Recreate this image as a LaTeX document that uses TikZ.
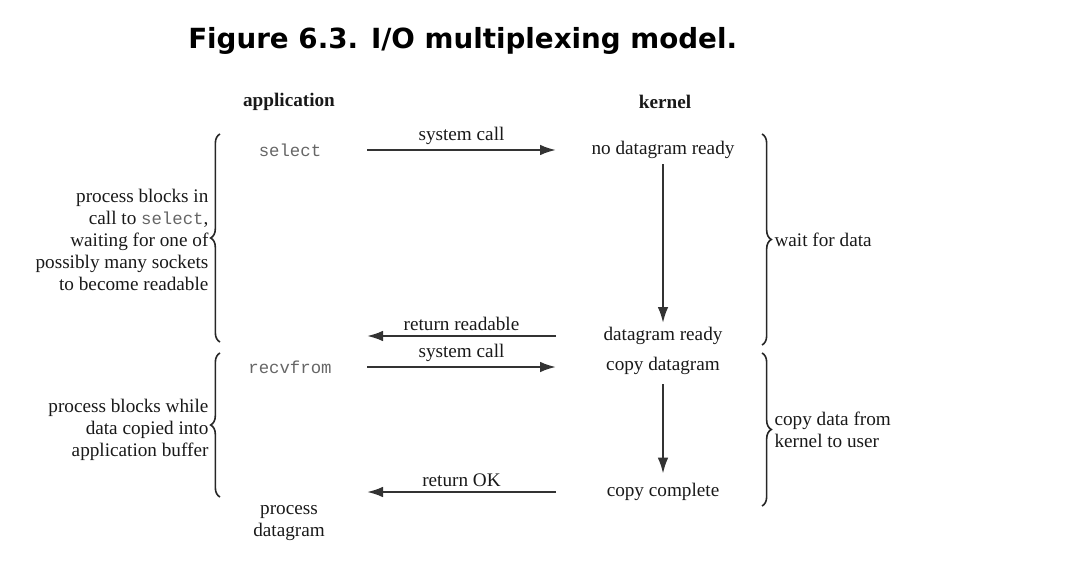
\documentclass[tikz,border=0pt]{standalone}
\usepackage{fontspec}
\setmainfont{Liberation Serif}
\setmonofont{Liberation Mono}
\newfontfamily\headfont{DejaVu Sans}
\usetikzlibrary{arrows.meta,decorations.pathreplacing}
\tikzset{
  lbl/.style={font=\fontsize{14.4}{16.5}\selectfont, text=black!90, inner sep=1pt},
  hd/.style={lbl, font=\fontsize{14.4}{16.5}\selectfont\bfseries},
  call/.style={font=\fontsize{13}{16}\selectfont\ttfamily, text=black!60, inner sep=1pt},
  msg/.style={draw=black!80, line width=1.6pt, -{Latex[length=12pt,width=8pt]}},
  brc/.style={decorate, decoration={brace, amplitude=7pt, aspect=0.5}, line width=1.2pt, draw=black!85},
}
\begin{document}
\begin{tikzpicture}[x=0.75pt,y=-0.75pt]
\useasboundingbox (0,0) rectangle (1081,570);
% title
\node[anchor=west, inner sep=0pt, font=\headfont\bfseries\fontsize{20.8}{24}\selectfont] (title) at (188,41) {Figure 6.3. I/O multiplexing model.};
% column heads
\node[hd] (app) at (289,102) {application};
\node[hd] (ker) at (665,102) {kernel};
% arrow columns
\coordinate (L) at (367,0);
\coordinate (R) at (556,0);
% application side
\node[call] (sel) at (290,150) {select};
\node[call] (rcv) at (290,367) {recvfrom};
\node[lbl, align=center] (proc) at (289,523) {process\\datagram};
% kernel side
\node[lbl] (nodr) at (663,150) {no datagram ready};
\node[lbl] (dr) at (663,336) {datagram ready};
\node[lbl] (cpy) at (663,366) {copy datagram};
\node[lbl] (cpc) at (663,492) {copy complete};
% messages
\draw[msg] (L |- sel) -- node[lbl, above=2pt] (sc1) {system call} (R |- sel);
\draw[msg] (R |- dr) -- node[lbl, above=2pt] (rr) {return readable} (L |- dr);
\draw[msg] (L |- rcv) -- node[lbl, above=2pt] (sc2) {system call} (R |- rcv);
\draw[msg] (R |- cpc) -- node[lbl, above=2pt] (rok) {return OK} (L |- cpc);
\draw[msg, shorten <=3pt, shorten >=2pt] (nodr.south) -- (dr.north);
\draw[msg, shorten <=6pt, shorten >=6pt] (cpy.south) -- (cpc.north);
% braces
\coordinate (lb1t) at (220,134);
\coordinate (lb1b) at (220,342);
\coordinate (lb2t) at (220,353);
\coordinate (lb2b) at (220,497);
\coordinate (rb1t) at (762,134);
\coordinate (rb1b) at (762,345);
\coordinate (rb2t) at (762,353);
\coordinate (rb2b) at (762,506);
\draw[brc] (lb1b) -- (lb1t);
\draw[brc] (lb2b) -- (lb2t);
\draw[brc] (rb1t) -- (rb1b);
\draw[brc] (rb2t) -- (rb2b);
\node[lbl, align=right, anchor=east] (blk1) at (210,240) {process blocks in\\call to {\ttfamily\fontsize{13}{16}\selectfont\color{black!60}select},\\waiting for one of\\possibly many sockets\\to become readable};
\node[lbl, align=right, anchor=east] (blk2) at (210,430) {process blocks while\\data copied into\\application buffer};
\node[lbl, align=left, anchor=west] (wait) at (773,240) {wait for data};
\node[lbl, align=left, anchor=west] (cdu) at (773,430) {copy data from\\kernel to user};
\end{tikzpicture}
\end{document}
